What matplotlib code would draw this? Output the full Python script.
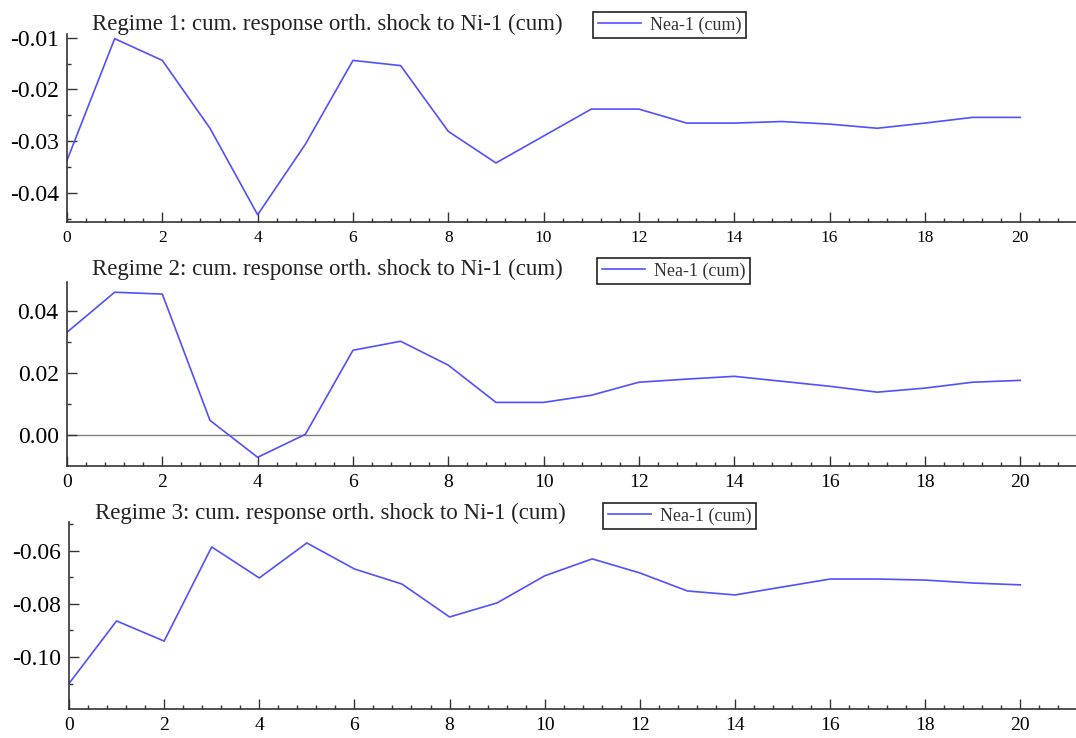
import numpy as np
import matplotlib
import matplotlib.pyplot as plt
from matplotlib.ticker import MultipleLocator, FormatStrFormatter

matplotlib.use("Agg")

plt.rcParams["font.family"] = ["Liberation Serif", "DejaVu Serif"]

# Horizon (periods)
horizon = list(range(21))

# Cumulative responses of Nea-1 to an orthogonal shock in Ni-1, one per regime
regime1 = [-0.0337, -0.0102, -0.0144, -0.0275, -0.0442, -0.0306, -0.0144,
           -0.0154, -0.0281, -0.0342, -0.0290, -0.0238, -0.0238, -0.0265,
           -0.0265, -0.0262, -0.0267, -0.0275, -0.0265, -0.0254, -0.0254]
regime2 = [0.0332, 0.0461, 0.0455, 0.0048, -0.0071, 0.0003, 0.0274, 0.0303,
           0.0226, 0.0106, 0.0106, 0.0129, 0.0171, 0.0181, 0.0190, 0.0174,
           0.0158, 0.0139, 0.0152, 0.0171, 0.0177]
regime3 = [-0.1100, -0.0864, -0.0940, -0.0585, -0.0702, -0.0570, -0.0668,
           -0.0725, -0.0849, -0.0796, -0.0694, -0.0630, -0.0683, -0.0751,
           -0.0766, -0.0736, -0.0706, -0.0706, -0.0710, -0.0721, -0.0728]

titles = ["Regime 1: cum. response orth. shock to Ni-1 (cum)",
          "Regime 2: cum. response orth. shock to Ni-1 (cum)",
          "Regime 3: cum. response orth. shock to Ni-1 (cum)"]
series_label = "Nea-1 (cum)"

W, H = 1076, 738
fig = plt.figure(figsize=(W / 100, H / 100), dpi=100)

# pixel layout of each panel: left, top, bottom, ylim, ticks, title / legend positions
panels = [
    dict(y=regime1, left=67, top=34, bottom=222, ylim=(-0.0456, -0.0093),
         major=0.01, minor=0.005, xfs=12.5,
         title_xy=(92, 30), leg_xy=(593, 12)),
    dict(y=regime2, left=67, top=282, bottom=466, ylim=(-0.0099, 0.0494),
         major=0.02, minor=0.01, xfs=14,
         title_xy=(92, 275), leg_xy=(597, 258)),
    dict(y=regime3, left=69, top=522, bottom=709, ylim=(-0.1196, -0.0491),
         major=0.02, minor=0.01, xfs=14,
         title_xy=(95, 519), leg_xy=(603, 503)),
]

line_color = "#5050ff"

for i, p in enumerate(panels):
    ax = fig.add_axes([p["left"] / W, 1 - p["bottom"] / H,
                       (W - p["left"]) / W, (p["bottom"] - p["top"]) / H])
    ax.plot(horizon, p["y"], color=line_color, lw=1.2, label=series_label)
    if i == 1:
        ax.axhline(0, color="#808080", lw=1.0, zorder=0)

    ax.set_xlim(0, 21.17)
    ax.set_ylim(*p["ylim"])
    ax.xaxis.set_major_locator(MultipleLocator(2))
    ax.xaxis.set_minor_locator(MultipleLocator(0.4))
    ax.yaxis.set_major_locator(MultipleLocator(p["major"]))
    ax.yaxis.set_minor_locator(MultipleLocator(p["minor"]))
    ax.yaxis.set_major_formatter(FormatStrFormatter("%.2f"))

    for side in ("top", "right"):
        ax.spines[side].set_visible(False)
    for side in ("left", "bottom"):
        ax.spines[side].set_linewidth(1.2)
        ax.spines[side].set_color("#333333")

    ax.tick_params(which="both", direction="in", color="#333333")
    ax.tick_params(which="major", length=7, width=1.0)
    ax.tick_params(which="minor", length=3, width=1.0)
    ax.tick_params(axis="y", labelsize=17, pad=6)
    ax.tick_params(axis="x", labelsize=p["xfs"], pad=6)

    tx, ty = p["title_xy"]
    fig.text(tx / W, 1 - ty / H, titles[i], fontsize=16.5, va="baseline",
             ha="left", color="#222222")

    lx, ly = p["leg_xy"]
    leg = ax.legend(loc="upper left", bbox_to_anchor=(lx / W, 1 - ly / H),
                    bbox_transform=fig.transFigure, borderaxespad=0,
                    fontsize=13, handlelength=2.4, handletextpad=0.5,
                    borderpad=0.25, fancybox=False, framealpha=1)
    leg.get_frame().set_edgecolor("#222222")
    leg.get_frame().set_linewidth(1.2)
    for t in leg.get_texts():
        t.set_color("#333333")

fig.savefig("out.png", dpi=100)
plt.close(fig)
